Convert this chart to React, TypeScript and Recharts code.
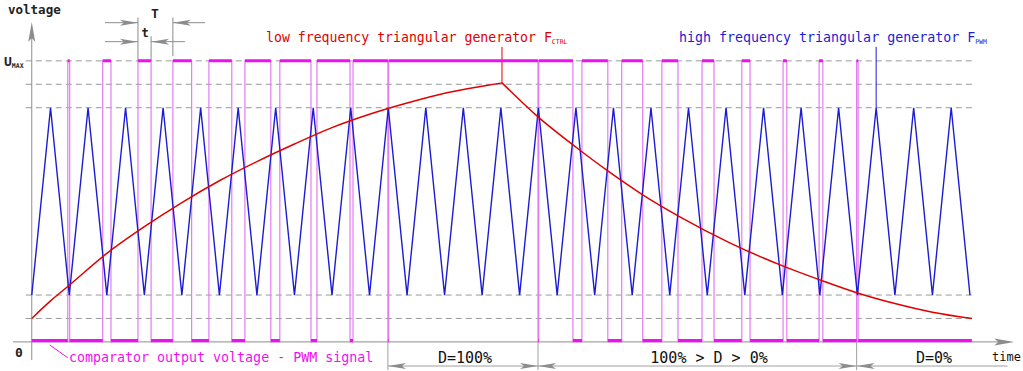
import { LineChart, Line, XAxis, YAxis, ReferenceLine, ReferenceDot } from "recharts";

// time unit = one period T of the high frequency carrier, voltage in volts (Umax = 12)
const UMAX = 12;

// high frequency triangular generator F_PWM (vertices)
const carrierTime = [
  0, 0.5, 1, 1.5, 2, 2.5, 3, 3.5, 4, 4.5, 5, 5.5, 6, 6.5, 7, 7.5, 8, 8.5, 9, 9.5,
  10, 10.5, 11, 11.5, 12, 12.5, 13, 13.5, 14, 14.5, 15, 15.5, 16, 16.5, 17, 17.5,
  18, 18.5, 19, 19.5, 20, 20.5, 21, 21.5, 22, 22.5, 23, 23.5, 24, 24.5, 25,
];
const carrierVolt = [
  2, 10, 2, 10, 2, 10, 2, 10, 2, 10, 2, 10, 2, 10, 2, 10, 2, 10, 2, 10,
  2, 10, 2, 10, 2, 10, 2, 10, 2, 10, 2, 10, 2, 10, 2, 10,
  2, 10, 2, 10, 2, 10, 2, 10, 2, 10, 2, 10, 2, 10, 2,
];

// low frequency generator F_CTRL, rising and falling parts
const ctrlRiseTime = [0, 0.5, 1, 2, 3, 4, 5, 6, 7, 8, 9, 10, 11, 12, 12.53];
const ctrlRiseVolt = [1.0, 1.75, 2.42, 3.78, 4.92, 5.95, 6.88, 7.7, 8.45, 9.15, 9.72, 10.2, 10.62, 10.92, 11.06];
const ctrlFallTime = [12.53, 13.49, 14.53, 15.35, 16.28, 17.27, 18.6, 19.94, 21.0, 22.0, 23.0, 24.0, 25.05];
const ctrlFallVolt = [11.06, 9.61, 8.28, 7.3, 6.28, 5.34, 4.23, 3.29, 2.65, 2.09, 1.64, 1.27, 1.0];

// comparator output: times where the PWM output toggles (starts low)
const pwmEdges = [
  0.96, 1.01, 1.89, 2.11, 2.83, 3.18, 3.76, 4.26, 4.72, 5.33, 5.68, 6.37, 6.61, 7.44,
  7.6, 8.48, 8.56, 9.49, 9.51, 13.49, 13.51, 14.42, 14.66, 15.35, 15.72, 16.28, 16.79,
  17.22, 17.86, 18.18, 18.92, 19.14, 20.02, 20.12, 20.98, 21.08, 21.98, 22.02,
];
const pwmEnd = 25.05;

const levels = [1, 2, 10, 11, 12];

const carrierData = carrierTime.map((t, i) => ({ t, v: carrierVolt[i] }));
const riseData = ctrlRiseTime.map((t, i) => ({ t, v: ctrlRiseVolt[i] }));
const fallData = ctrlFallTime.map((t, i) => ({ t, v: ctrlFallVolt[i] }));

const pwmStep: { t: number; v: number }[] = [{ t: 0, v: 0 }];
const pwmFlat: { t: number; v: number | null }[] = [];
{
  let state = 0;
  let prev = 0;
  for (const e of [...pwmEdges, pwmEnd]) {
    const v = state ? UMAX : 0.06;
    pwmFlat.push({ t: prev, v }, { t: e, v }, { t: e, v: null });
    state = 1 - state;
    prev = e;
    pwmStep.push({ t: e, v: e === pwmEnd ? (state ? 0 : UMAX) : state ? UMAX : 0 });
  }
}

const GREY = "#8c8c8c";
const BLUE = "#1c1cd2";
const RED = "#e00000";
const MAGENTA = "#ee10ee";
const MAGENTA_LIGHT = "#e47cf2";

type Dir = "up" | "left" | "right";
const arrow = (dir: Dir, len = 18, half = 3) => (p: any) => {
  const { cx, cy } = p;
  let d = "";
  if (dir === "up") d = `M${cx},${cy} L${cx + half},${cy + len} L${cx},${cy + len - 4} L${cx - half},${cy + len} Z`;
  if (dir === "right") d = `M${cx},${cy} L${cx - len},${cy - half} L${cx - len + 4},${cy} L${cx - len},${cy + half} Z`;
  if (dir === "left") d = `M${cx},${cy} L${cx + len},${cy - half} L${cx + len - 4},${cy} L${cx + len},${cy + half} Z`;
  return <path d={d} fill={GREY} stroke="none" />;
};

const seg = (x1: number, y1: number, x2: number, y2: number, stroke = GREY, dash?: string, key?: string) => (
  <ReferenceLine
    key={key}
    segment={[{ x: x1, y: y1 }, { x: x2, y: y2 }]}
    stroke={stroke}
    strokeWidth={1}
    strokeDasharray={dash}
    ifOverflow="visible"
  />
);

const mono = "'DejaVu Sans Mono', monospace";

export default function App() {
  const peakT = ctrlRiseTime[ctrlRiseTime.length - 1];
  const peakV = ctrlRiseVolt[ctrlRiseVolt.length - 1];
  const bounds = [pwmEdges[17], pwmEdges[19], pwmEdges[36]];
  const dimY = -1.03;
  return (
    <div style={{ position: "absolute", left: 0, top: 0, width: 1023, height: 371, background: "#fff" }}>
      <LineChart width={1023} height={371} margin={{ top: 7, right: 8, bottom: 1, left: 13 }}>
        <XAxis dataKey="t" type="number" domain={[-0.5, 26.2]} hide allowDataOverflow />
        <YAxis type="number" domain={[-1.2, 14.3]} hide allowDataOverflow />

        {levels.map((y) => seg(-0.16, y, 25.05, y, "#9a9a9a", "6 4", `lv${y}`))}

        {/* axes */}
        {seg(0, -0.77, 0, 13.3, GREY)}
        {seg(-0.5, 0, 25.9, 0, GREY)}
        <ReferenceDot x={0} y={13.66} r={3} shape={arrow("up", 20, 3.5)} ifOverflow="visible" />
        <ReferenceDot x={26.18} y={0} r={3} shape={arrow("right", 20, 3.5)} ifOverflow="visible" />

        {/* T and t dimensions */}
        {seg(pwmEdges[4], 12, pwmEdges[4], 13.85)}
        {seg(pwmEdges[6], 12.2, pwmEdges[6], 13.85)}
        {seg(pwmEdges[5], 12, pwmEdges[5], 13.05)}
        {seg(1.95, 13.63, pwmEdges[4], 13.63)}
        {seg(pwmEdges[6], 13.63, 4.62, 13.63)}
        {seg(1.95, 12.82, pwmEdges[4], 12.82)}
        {seg(pwmEdges[5], 12.82, 4.08, 12.82)}
        <ReferenceDot x={pwmEdges[4]} y={13.63} r={3} shape={arrow("right")} ifOverflow="visible" />
        <ReferenceDot x={pwmEdges[6]} y={13.63} r={3} shape={arrow("left")} ifOverflow="visible" />
        <ReferenceDot x={pwmEdges[4]} y={12.82} r={3} shape={arrow("right")} ifOverflow="visible" />
        <ReferenceDot x={pwmEdges[5]} y={12.82} r={3} shape={arrow("left")} ifOverflow="visible" />

        {/* duty cycle dimensions */}
        {bounds.map((b) => seg(b, 0, b, -1.2, "#a0a0a0", undefined, `b${b}`))}
        {seg(bounds[0], dimY, 26.0, dimY, "#a0a0a0")}
        <ReferenceDot x={bounds[0]} y={dimY} r={3} shape={arrow("left")} ifOverflow="visible" />
        <ReferenceDot x={bounds[1]} y={dimY} r={3} shape={arrow("right")} ifOverflow="visible" />
        <ReferenceDot x={bounds[1]} y={dimY} r={3} shape={arrow("left")} ifOverflow="visible" />
        <ReferenceDot x={bounds[2]} y={dimY} r={3} shape={arrow("right")} ifOverflow="visible" />
        <ReferenceDot x={bounds[2]} y={dimY} r={3} shape={arrow("left")} ifOverflow="visible" />

        {/* leaders */}
        {seg(peakT, peakV, peakT, 12.6, RED)}
        {seg(22.5, 10, 22.5, 12.6, BLUE)}
        {seg(0.48, -0.13, 0.96, -0.68, MAGENTA)}

        <Line data={pwmStep} dataKey="v" type="stepAfter" stroke={MAGENTA_LIGHT} strokeWidth={1.2} dot={false} activeDot={false} isAnimationActive={false} />
        <Line data={pwmFlat} dataKey="v" type="linear" stroke={MAGENTA} strokeWidth={3} dot={false} activeDot={false} connectNulls={false} isAnimationActive={false} />
        <Line data={carrierData} dataKey="v" type="linear" stroke={BLUE} strokeWidth={1.4} dot={false} activeDot={false} isAnimationActive={false} />
        <Line data={riseData} dataKey="v" type="monotone" stroke={RED} strokeWidth={1.5} dot={false} activeDot={false} isAnimationActive={false} />
        <Line data={fallData} dataKey="v" type="monotone" stroke={RED} strokeWidth={1.5} dot={false} activeDot={false} isAnimationActive={false} />
      </LineChart>

      <svg width={1023} height={371} style={{ position: "absolute", left: 0, top: 0, pointerEvents: "none" }} fontFamily={mono}>
        <text x={8} y={14} fontSize={12.5} fontWeight="bold" fill="#222">voltage</text>
        <text x={4} y={66} fontSize={13} fontWeight="bold" fill="#222">
          U<tspan fontSize={6.5} dy={2}>MAX</tspan>
        </text>
        <text x={15} y={357} fontSize={13} fontWeight="bold" fill="#222">0</text>
        <text x={155} y={18} fontSize={13} fontWeight="bold" fill="#222" textAnchor="middle">T</text>
        <text x={145} y={37} fontSize={12} fontWeight="bold" fill="#222" textAnchor="middle">t</text>

        <text x={266} y={42} fontSize={13.2} fill={RED}>
          low frequency triangular generator F<tspan fontSize={6.5} dy={2}>CTRL</tspan>
        </text>
        <text x={679} y={42} fontSize={13.3} fill={BLUE}>
          high frequency triangular generator F<tspan fontSize={6.5} dy={2}>PWM</tspan>
        </text>
        <text x={69} y={362} fontSize={13.3} fill={MAGENTA}>comparator output voltage - PWM signal</text>

        <text x={465} y={363} fontSize={15} fill="#111" textAnchor="middle">D=100%</text>
        <text x={709} y={363} fontSize={15} fill="#111" textAnchor="middle">100% &gt; D &gt; 0%</text>
        <text x={934} y={363} fontSize={15} fill="#111" textAnchor="middle">D=0%</text>
        <text x={992} y={361} fontSize={12} fill="#111">time</text>
      </svg>
    </div>
  );
}
